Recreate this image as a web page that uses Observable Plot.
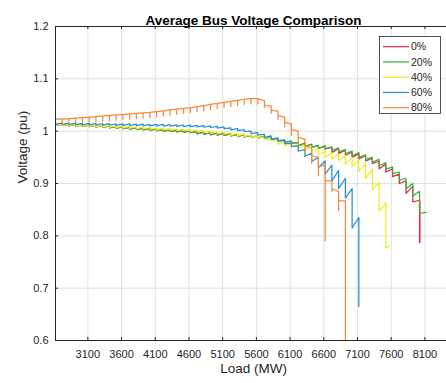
<!DOCTYPE html>
<html>
<head>
<meta charset="utf-8">
<script src="https://cdn.jsdelivr.net/npm/d3@7"></script>
<script src="https://cdn.jsdelivr.net/npm/@observablehq/plot@0.6"></script>
<style>
  body { margin: 0; background: #ffffff; }
  #chart { width: 446px; height: 383px; }
</style>
</head>
<body>
<div id="chart"></div>
<script>
// ---- data ----
const loads = [2620,2720,2820,2920,3020,3120,3220,3320,3420,3520,
               3620,3720,3820,3920,4020,4120,4220,4320,4420,4520,
               4620,4720,4820,4920,5020,5120,5220,5320,5420,5520,
               5620,5720,5820,5920,6020,6120,6220,6320,6420,6520,
               6620,6720,6820,6920,7020,7120,7220,7320,7420,7520,
               7620,7720,7820,7920,8020,8120];

const xTicks = [3100,3600,4100,4600,5100,5600,6100,6600,7100,7600,8100];
const yTicks = [0.6,0.7,0.8,0.9,1.0,1.1,1.2];

const seriesNames = ["0%","20%","40%","60%","80%"];
const seriesColors = ["#e8294f","#3cb43c","#eeee22","#2a8fd8","#f7893c"];

// 0 %  (value before each load step, value just after the step)
const pre0 = [1.014,1.0135,1.013,1.0125,1.012,1.0115,1.011,1.0105,1.0095,1.009,
              1.008,1.007,1.0065,1.0055,1.005,1.004,1.003,1.0025,1.0015,1.001,
              1.000,0.999,0.998,0.997,0.9965,0.996,0.995,0.994,0.993,0.992,
              0.991,0.9895,0.988,0.986,0.983,0.981,0.978,0.977,0.975,0.973,
              0.972,0.969,0.967,0.964,0.960,0.957,0.953,0.948,0.943,0.937,
              0.928,0.918,0.905,0.895,0.868];
const dip0 = [1.011,1.0105,1.010,1.0095,1.009,1.0085,1.008,1.0075,1.0065,1.006,
              1.005,1.004,1.0035,1.0025,1.002,1.001,1.000,0.9995,0.9985,0.998,
              0.997,0.995,0.994,0.993,0.9925,0.992,0.991,0.990,0.989,0.988,
              0.987,0.9855,0.984,0.982,0.979,0.977,0.972,0.971,0.969,0.967,
              0.966,0.959,0.957,0.954,0.950,0.947,0.943,0.938,0.928,0.922,
              0.913,0.900,0.881,0.865,0.787];
const tail0 = [[8026,0.866],[8026,0.788]];

// 20 %
const pre20 = [1.014,1.0135,1.013,1.0125,1.012,1.0115,1.011,1.0105,1.0095,1.009,
               1.008,1.007,1.0065,1.0055,1.005,1.004,1.003,1.0025,1.0015,1.001,
               1.000,0.999,0.998,0.997,0.9965,0.996,0.995,0.994,0.993,0.992,
               0.991,0.9895,0.988,0.986,0.983,0.981,0.978,0.977,0.975,0.973,
               0.972,0.970,0.968,0.965,0.962,0.959,0.955,0.950,0.946,0.940,
               0.932,0.922,0.910,0.900,0.885,0.845];
const dip20 = [1.011,1.0105,1.010,1.0095,1.009,1.0085,1.008,1.0075,1.0065,1.006,
               1.005,1.004,1.0035,1.0025,1.002,1.001,1.000,0.9995,0.9985,0.998,
               0.997,0.995,0.994,0.993,0.9925,0.992,0.991,0.990,0.989,0.988,
               0.987,0.9855,0.984,0.982,0.979,0.977,0.972,0.971,0.969,0.967,
               0.966,0.963,0.961,0.957,0.953,0.950,0.946,0.941,0.934,0.927,
               0.919,0.906,0.890,0.876,0.843,0.845];
const tail20 = [];

// 40 %
const pre40 = [1.014,1.0137,1.0133,1.013,1.0125,1.012,1.0115,1.011,1.0105,1.010,
               1.0095,1.009,1.008,1.0075,1.007,1.006,1.0055,1.005,1.0045,1.004,
               1.003,1.002,1.001,1.000,0.999,0.998,0.997,0.996,0.995,0.993,
               0.991,0.989,0.987,0.983,0.980,0.977,0.975,0.973,0.970,0.966,
               0.962,0.959,0.956,0.953,0.950,0.946,0.938,0.928,0.902,0.863];
const dip40 = [1.011,1.0107,1.0103,1.010,1.0095,1.009,1.0085,1.008,1.0075,1.007,
               1.0065,1.006,1.005,1.0045,1.004,1.003,1.0025,1.002,1.0015,1.001,
               1.000,0.999,0.998,0.997,0.996,0.995,0.992,0.991,0.990,0.988,
               0.986,0.984,0.982,0.975,0.972,0.969,0.967,0.965,0.962,0.954,
               0.950,0.947,0.944,0.937,0.932,0.924,0.910,0.888,0.847,0.777];
const tail40 = [[7580,0.781]];

// 60 %
const pre60 = [1.016,1.0158,1.0155,1.0153,1.015,1.015,1.0148,1.0145,1.0143,1.014,
               1.014,1.0138,1.0135,1.0133,1.013,1.013,1.0128,1.0125,1.012,1.0118,
               1.0115,1.011,1.0105,1.010,1.009,1.008,1.0065,1.005,1.003,1.000,
               0.997,0.994,0.991,0.987,0.982,0.977,0.972,0.965,0.958,0.950,
               0.943,0.935,0.925,0.910,0.890,0.835];
const dip60 = [1.013,1.0128,1.0125,1.0123,1.012,1.012,1.0118,1.0115,1.0113,1.011,
               1.011,1.0108,1.0105,1.0103,1.010,1.010,1.0098,1.0095,1.009,1.0088,
               1.0085,1.008,1.0075,1.007,1.006,1.005,1.0025,1.001,0.999,0.996,
               0.993,0.988,0.985,0.981,0.976,0.971,0.962,0.952,0.942,0.930,
               0.918,0.905,0.890,0.872,0.815,0.665];
const tail60 = [];

// 80 %  (before step, bottom of the step, after quick recovery)
const pre80 = [1.023,1.0235,1.024,1.025,1.026,1.027,1.028,1.029,1.030,1.031,
               1.032,1.033,1.034,1.035,1.036,1.0375,1.039,1.0405,1.042,1.0435,
               1.045,1.047,1.049,1.051,1.053,1.055,1.057,1.059,1.061,1.062,
               1.062,1.058,1.048,1.038,1.027,1.014,1.000,0.985,0.968,0.950,
               0.935,0.905,0.885,0.867];
const dip80 = [1.013,1.0135,1.014,1.015,1.016,1.017,1.018,1.019,1.020,1.021,
               1.022,1.023,1.024,1.025,1.026,1.0275,1.029,1.0305,1.032,1.0335,
               1.035,1.037,1.039,1.041,1.043,1.045,1.047,1.049,1.051,1.052,
               1.052,1.045,1.034,1.022,1.008,0.992,0.975,0.958,0.938,0.915,
               0.790,0.885,0.848,0.550];
const post80 = [1.023,1.0235,1.024,1.025,1.026,1.027,1.028,1.029,1.030,1.031,
                1.032,1.033,1.034,1.035,1.036,1.0375,1.039,1.0405,1.042,1.0435,
                1.045,1.047,1.049,1.051,1.053,1.055,1.057,1.059,1.061,1.062,
                1.062,1.050,1.040,1.030,1.017,1.003,0.988,0.972,0.953,0.932,
                0.905,0.890,0.867,0.550];
const tail80 = [];

// ---- build the table the line mark needs ----
function build(name, pre, dip, post, tail) {
  const out = [];
  for (let i = 0; i < pre.length; i++) {
    out.push({load: loads[i], v: pre[i], s: name});
    out.push({load: loads[i], v: dip[i], s: name});
    if (post && post[i] !== dip[i]) out.push({load: loads[i], v: post[i], s: name});
  }
  for (const [l, v] of tail) out.push({load: l, v, s: name});
  return out;
}
const rows = [].concat(
  build("0%", pre0, dip0, null, tail0),
  build("20%", pre20, dip20, null, tail20),
  build("40%", pre40, dip40, null, tail40),
  build("60%", pre60, dip60, null, tail60),
  build("80%", pre80, dip80, post80, tail80)
);

const axisColor = "#262626";
const gridColor = "#e1e1e1";

const chart = Plot.plot({
  width: 446,
  height: 383,
  marginLeft: 55,
  marginRight: 0,
  marginTop: 26,
  marginBottom: 43,
  style: {fontFamily: "'Liberation Sans', Arial, Helvetica, sans-serif", fontSize: "11px", color: axisColor, background: "#ffffff"},
  x: {domain: [2620, 8420], ticks: xTicks, tickSize: 0, tickPadding: 10, tickFormat: d => String(d), label: null},
  y: {domain: [0.6, 1.2], ticks: yTicks, tickSize: 0, tickPadding: 7, tickFormat: d => String(Math.round(d * 10) / 10), label: null},
  color: {domain: seriesNames, range: seriesColors},
  marks: [
    Plot.ruleX(xTicks, {x: d => d, stroke: gridColor, strokeWidth: 1}),
    Plot.ruleY(yTicks, {y: d => d, stroke: gridColor, strokeWidth: 1}),
    Plot.line(rows, {x: "load", y: "v", z: "s", stroke: "s", strokeWidth: 1.25, clip: true, curve: "linear"}),
    Plot.ruleY([0.6, 1.2], {y: d => d, stroke: axisColor, strokeWidth: 1}),
    Plot.ruleX([2620], {x: d => d, stroke: axisColor, strokeWidth: 1}),
    Plot.tickX(xTicks, {x: d => d, insetTop: 311, stroke: axisColor}),
    Plot.tickX(xTicks, {x: d => d, insetBottom: 311, stroke: axisColor}),
    Plot.tickY(yTicks, {y: d => d, insetRight: 388, stroke: axisColor}),
    Plot.text(["Average Bus Voltage Comparison"], {text: d => d, frameAnchor: "top", dy: -11, dx: 2.5, fontWeight: "bold", fontSize: 13.5, fill: "#000000"}),
    Plot.text(["Load (MW)"], {text: d => d, frameAnchor: "bottom", dy: 32, dx: 2.5, fontSize: 13.5, fill: axisColor}),
    Plot.text(["Voltage (pu)"], {text: d => d, frameAnchor: "left", dx: -33, rotate: -90, fontSize: 13.5, fill: axisColor})
  ]
});

const svgEl = chart.tagName.toLowerCase() === "svg" ? chart : chart.querySelector("svg");
document.getElementById("chart").appendChild(chart);

// legend box (top-right, inside the axes)
const lg = d3.select(svgEl).append("g")
  .attr("font-size", 10.5)
  .attr("font-family", "'Liberation Sans', Arial, sans-serif")
  .attr("text-anchor", "start");
lg.append("rect").attr("x", 379.5).attr("y", 36.5).attr("width", 61).attr("height", 77)
  .attr("fill", "#ffffff").attr("stroke", axisColor).attr("stroke-width", 0.8);
seriesNames.forEach((n, k) => {
  const y = 46.7 + k * 15.25;
  lg.append("line").attr("x1", 383).attr("x2", 409).attr("y1", y).attr("y2", y)
    .attr("stroke", seriesColors[k]).attr("stroke-width", 1.25);
  lg.append("text").attr("x", 411).attr("y", y).attr("dy", "0.35em")
    .attr("text-anchor", "start").attr("fill", axisColor).text(n);
});
</script>
</body>
</html>
